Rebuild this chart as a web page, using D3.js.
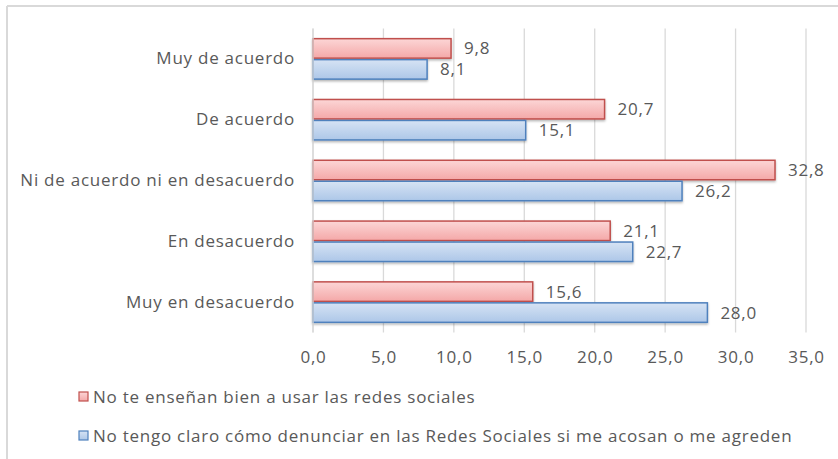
<!DOCTYPE html>
<html>
<head>
<meta charset="utf-8">
<script src="https://cdn.jsdelivr.net/npm/d3@7"></script>
<style>
  html, body { margin: 0; padding: 0; background: #fff; }
  svg { display: block; }
  text { font-family: "Open Sans", "Liberation Sans", sans-serif; fill: #595959; letter-spacing: 0.75px; }
</style>
</head>
<body>
<svg id="chart" width="838" height="459"></svg>
<script>
// Survey answers (percent) for two statements
const categories = ["Muy de acuerdo", "De acuerdo", "Ni de acuerdo ni en desacuerdo", "En desacuerdo", "Muy en desacuerdo"];
const seriesNames = [
  "No te enseñan bien a usar las redes sociales",
  "No tengo claro cómo denunciar en las Redes Sociales si me acosan o me agreden"
];
const ensenan = [9.8, 20.7, 32.8, 21.1, 15.6];
const denunciar = [8.1, 15.1, 26.2, 22.7, 28.0];
const tickValues = [0, 5, 10, 15, 20, 25, 30, 35];

const fmt = v => v.toFixed(1).replace(".", ",");

const svg = d3.select("#chart");
const W = 838, H = 459;
const plot = { left: 313, right: 806, top: 28.5, bottom: 332.5 };
const fontSize = 17;
const fontFamily = '"Open Sans", sans-serif';

// frame
svg.append("line").attr("x1", 7).attr("x2", W).attr("y1", 6).attr("y2", 6)
  .attr("stroke", "#d9d9d9").attr("stroke-width", 2);
svg.append("line").attr("x1", 7).attr("x2", 7).attr("y1", 6).attr("y2", H)
  .attr("stroke", "#d9d9d9").attr("stroke-width", 2);

const defs = svg.append("defs");
const palettes = [
  { id: "gRed", top: "#fcd6d6", bottom: "#f4a8a8", stroke: "#c0504d" },
  { id: "gBlue", top: "#d6e3f4", bottom: "#adc7e8", stroke: "#4f81bd" }
];
palettes.forEach(p => {
  const g = defs.append("linearGradient").attr("id", p.id)
    .attr("x1", 0).attr("y1", 0).attr("x2", 0).attr("y2", 1);
  g.append("stop").attr("offset", "0%").attr("stop-color", p.top);
  g.append("stop").attr("offset", "100%").attr("stop-color", p.bottom);
});
const f = defs.append("filter").attr("id", "shadow")
  .attr("x", "-5%").attr("y", "-20%").attr("width", "110%").attr("height", "160%");
f.append("feDropShadow").attr("dx", 0).attr("dy", 1.5).attr("stdDeviation", 1)
  .attr("flood-color", "#000").attr("flood-opacity", 0.3);

const x = d3.scaleLinear().domain([0, 35]).range([plot.left, plot.right]);
const y = d3.scaleBand().domain(categories).range([plot.top, plot.bottom]).paddingInner(0.31).paddingOuter(0.155);
const ySub = d3.scaleBand().domain([0, 1]).range([0, y.bandwidth()]);

// vertical gridlines
svg.append("g").selectAll("line").data(tickValues).join("line")
  .attr("x1", d => x(d)).attr("x2", d => x(d))
  .attr("y1", plot.top).attr("y2", plot.bottom)
  .attr("stroke", "#d9d9d9").attr("stroke-width", 1.3);

// x axis labels
const xAxis = d3.axisBottom(x).tickValues(tickValues).tickFormat(fmt).tickSize(0).tickPadding(0);
const gx = svg.append("g").attr("transform", `translate(0,${plot.bottom})`).call(xAxis);
gx.select(".domain").remove();
gx.selectAll("text").attr("y", 30).attr("dy", 0)
  .style("font-size", fontSize + "px").style("fill", "#595959")
  .style("font-family", fontFamily);

// y axis labels
const yAxis = d3.axisLeft(y).tickSize(0).tickPadding(18);
const gy = svg.append("g").attr("transform", `translate(${plot.left},0)`).call(yAxis);
gy.select(".domain").remove();
gy.selectAll("text").style("font-size", fontSize + "px").style("fill", "#595959")
  .style("font-family", fontFamily);

const rows = categories.map((c, i) => ({ c, vals: [ensenan[i], denunciar[i]] }));

const groups = svg.append("g").selectAll("g").data(rows).join("g")
  .attr("transform", d => `translate(0,${y(d.c)})`);

groups.selectAll("rect").data(d => d.vals.map((v, k) => ({ v, k }))).join("rect")
  .attr("x", x(0))
  .attr("y", d => ySub(d.k) + 0.75)
  .attr("width", d => x(d.v) - x(0))
  .attr("height", ySub.bandwidth() - 1.5)
  .attr("fill", d => `url(#${palettes[d.k].id})`)
  .attr("stroke", d => palettes[d.k].stroke)
  .attr("stroke-width", 1.5)
  .attr("filter", "url(#shadow)");

groups.selectAll("text.val").data(d => d.vals.map((v, k) => ({ v, k }))).join("text")
  .attr("class", "val")
  .attr("x", d => x(d.v) + 13)
  .attr("y", d => ySub(d.k) + ySub.bandwidth() / 2)
  .attr("dy", "0.35em")
  .style("font-size", fontSize + "px")
  .text(d => fmt(d.v));

// y axis line at zero
svg.append("line").attr("x1", x(0)).attr("x2", x(0)).attr("y1", plot.top).attr("y2", plot.bottom)
  .attr("stroke", "#d9d9d9").attr("stroke-width", 1.3);

// legend
const legend = svg.append("g").selectAll("g").data(seriesNames).join("g")
  .attr("transform", (d, i) => `translate(79,${397 + i * 39})`);
legend.append("rect").attr("x", 0).attr("y", -5).attr("width", 9).attr("height", 9)
  .attr("fill", (d, i) => `url(#${palettes[i].id})`)
  .attr("stroke", (d, i) => palettes[i].stroke).attr("stroke-width", 1.2);
legend.append("text").attr("x", 14).attr("y", 0).attr("dy", "0.35em")
  .style("font-size", fontSize + "px").text(d => d);
</script>
</body>
</html>
